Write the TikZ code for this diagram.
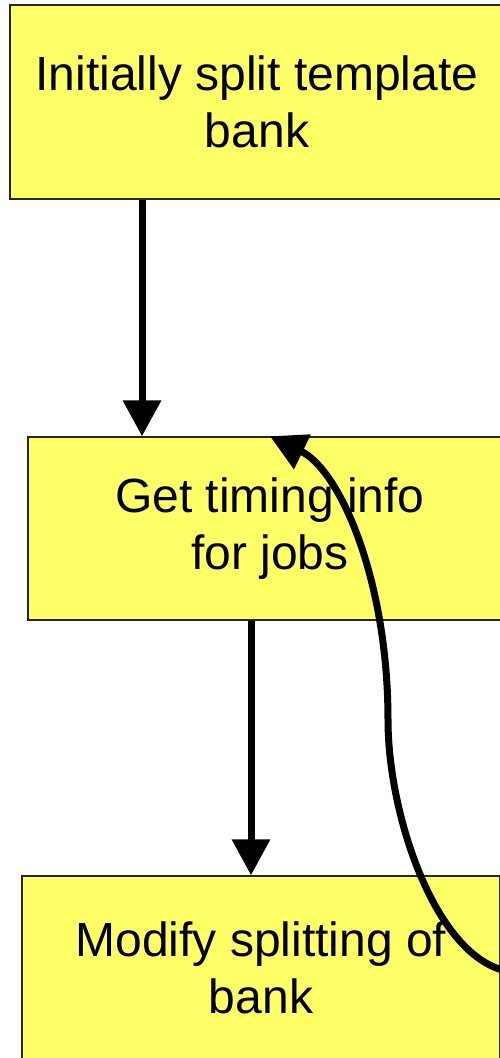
\documentclass[tikz,border=0pt]{standalone}
\usepackage{fontspec}
\setmainfont{Liberation Sans}
\usetikzlibrary{arrows.meta}
\definecolor{boxyellow}{RGB}{255,255,102}
\begin{document}
\begin{tikzpicture}[x=1pt,y=-1pt,
  box/.style={rectangle, draw=black!85, line width=1.5pt, fill=boxyellow,
    inner sep=0pt, align=center, font=\fontsize{48}{57}\selectfont},
  arr/.style={line width=7pt, -{Triangle[width=37pt,length=36pt]}}]
\useasboundingbox (0,0) rectangle (500,1058);
\clip (0,0) rectangle (500,1058);
\node[box, minimum width=494pt, minimum height=194pt] (b1) at (257,102)
  {Initially split template\\bank};
\node[box, minimum width=484pt, minimum height=183pt] (b2) at (270,528.5)
  {Get timing info\\for jobs};
\node[box, minimum width=478pt, minimum height=183pt] (b3) at (261,967.5)
  {Modify splitting of\\bank};
\coordinate (xa) at (142,0);
\coordinate (xb) at (251,0);
\coordinate (xc) at (270,0);
\coordinate (c0) at (515,972);
\coordinate (cm) at (388,720);
\draw[arr] (b1.south -| xa) -- (b2.north -| xa);
\draw[arr] (b2.south -| xb) -- (b3.north -| xb);
\draw[arr] (c0) .. controls (440,968) and (388,820) .. (cm)
  .. controls (388,580) and (340,470) .. (b2.north -| xc);
\end{tikzpicture}
\end{document}
